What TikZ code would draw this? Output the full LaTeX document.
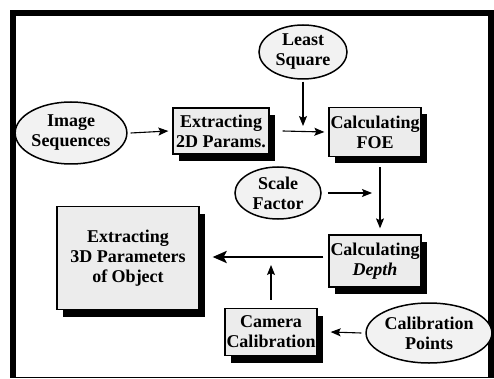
\documentclass[tikz,border=0pt]{standalone}
\usepackage{fontspec}
\setmainfont{Liberation Serif}
\usetikzlibrary{positioning,calc,shapes.geometric,shadows,arrows.meta}

\begin{document}
\begin{tikzpicture}[x=1pt, y=-1pt, >={Stealth[length=10pt,width=8pt,inset=2pt]},
  font=\bfseries\fontsize{18}{20}\selectfont,
  proc/.style={draw, line width=1.3pt, fill=gray!15, align=center, inner sep=1pt,
    drop shadow={shadow xshift=6pt, shadow yshift=-7pt, fill=black, opacity=1}},
  src/.style={draw, line width=1.5pt, ellipse, fill=gray!10, align=center, inner sep=0pt},
  flow/.style={->, line width=1.1pt}]
\useasboundingbox (0,0) rectangle (494,379);
% outer frame
\draw[line width=6pt] (13,377) -- (13,13) -- (491,13) -- (491,377);
\draw[line width=1pt] (10,377) -- (494,377);

\node (lsq) [src, minimum width=88pt, minimum height=54pt] at (303,52) {Least\\Square};
\node (img) [src, minimum width=108pt, minimum height=62pt] at (71,133) {Image\\Sequences};
\node (e2d) [proc, minimum width=96pt, minimum height=46pt] at (221,131) {Extracting\\2D Params.};
\node (foe) [proc, minimum width=92pt, minimum height=49pt] at (375,132) {Calculating\\FOE};
\node (sf) [src, minimum width=86pt, minimum height=52pt] at (278,193) {Scale\\Factor};
\node (dep) [proc, minimum width=92pt, minimum height=52pt] at (375,261) {Calculating\\\textit{Depth}};
\node (e3d) [proc, minimum width=142pt, minimum height=103pt] at (128,258) {Extracting\\3D Parameters\\of Object};
\node (cam) [proc, minimum width=92pt, minimum height=47pt] at (271,332) {Camera\\Calibration};
\node (cpt) [src, minimum width=96pt, minimum height=60pt] at (429,333) {Calibration\\Points};

% junctions on the main flow
\coordinate (j1) at (lsq.south |- e2d.east);
\coordinate (j2) at ([xshift=5pt]foe.south |- sf.east);
\coordinate (j3) at ($(dep.west)+(-5,-4)$);

\draw[flow] ([xshift=3pt]img.east) -- ([xshift=-4pt]e2d.west);
\draw[flow] ([xshift=13pt]e2d.east) -- ([xshift=-4pt]foe.west);
\draw[flow] ([yshift=-2pt]lsq.south) -- ([yshift=5pt]j1);
\draw[flow] ([xshift=5pt,yshift=-10pt]foe.south) -- ([xshift=5pt,yshift=6pt]dep.north);
\draw[flow] ([xshift=6pt]sf.east) -- ([xshift=-8pt]j2);
\draw[->, line width=2.6pt, >={Stealth[length=14pt,width=12pt,inset=3pt]}] (j3) -- ([xshift=13pt]j3 -| e3d.east);
\draw[flow] ([yshift=8pt]cam.north) -- ([yshift=-8pt]cam.north |- j3);
\draw[flow] ([xshift=-4pt]cpt.west) -- ([xshift=13pt]cam.east);
\end{tikzpicture}
\end{document}
